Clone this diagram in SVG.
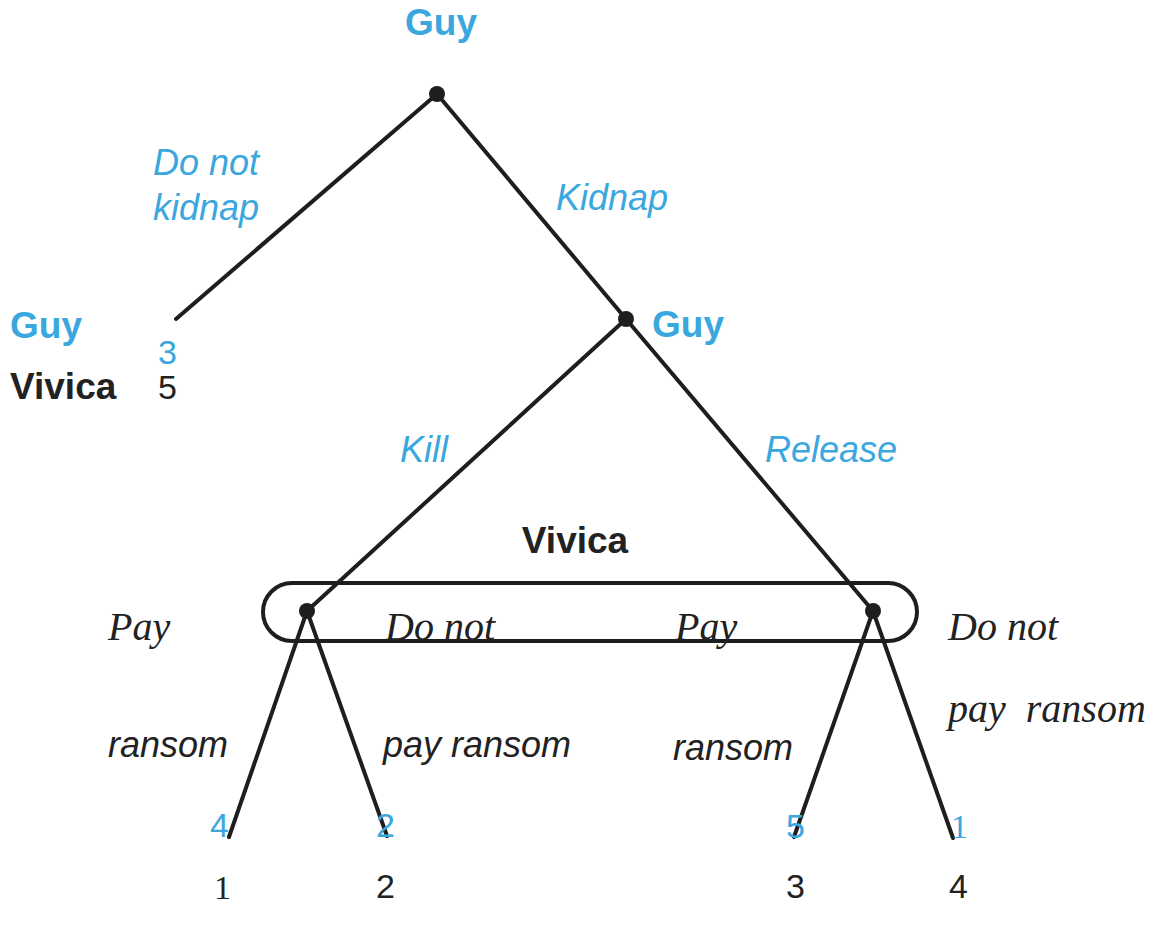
<svg xmlns="http://www.w3.org/2000/svg" width="1153" height="946" viewBox="0 0 1153 946">
<style>
.bg{fill:#ffffff}
.ln{stroke:#1e1e1e;stroke-width:4;fill:none;stroke-linecap:round}
.dot{fill:#1e1e1e}
.pl{font-family:"Liberation Sans",Arial,sans-serif;font-weight:bold;font-size:37px}
.blue{fill:#3aa7de}
.blk{fill:#222222}
.act{font-family:"Liberation Sans",Arial,sans-serif;font-style:italic;font-size:36px}
.ser{font-family:"Liberation Serif","Times New Roman",serif;font-style:italic;font-size:40px;fill:#222222}
.num{font-family:"Liberation Sans",Arial,sans-serif;font-size:34px}
.numS{font-family:"Liberation Serif","Times New Roman",serif;font-size:34px}
</style>
<rect class="bg" x="0" y="0" width="1153" height="946"/>
<g id="connectors">
<line class="ln" x1="437" y1="94" x2="176" y2="319"/>
<line class="ln" x1="437" y1="94" x2="626" y2="319"/>
<line class="ln" x1="626" y1="319" x2="307" y2="611"/>
<line class="ln" x1="626" y1="319" x2="873" y2="611"/>
<line class="ln" x1="307" y1="611" x2="229" y2="837"/>
<line class="ln" x1="307" y1="611" x2="387" y2="836"/>
<line class="ln" x1="873" y1="611" x2="794" y2="837"/>
<line class="ln" x1="873" y1="611" x2="953" y2="838"/>
</g>
<g id="info-set">
<rect class="ln" x="263" y="583" width="654" height="58" rx="29" ry="29"/>
<text class="pl blk" x="575" y="553" text-anchor="middle">Vivica</text>
</g>
<g id="node-root">
<circle class="dot" cx="437" cy="94" r="8"/>
<text class="pl blue" x="441" y="35" text-anchor="middle">Guy</text>
</g>
<g id="node-guy2">
<circle class="dot" cx="626" cy="319" r="8"/>
<text class="pl blue" x="652" y="337">Guy</text>
</g>
<g id="node-vivica-left">
<circle class="dot" cx="307" cy="611" r="8"/>
</g>
<g id="node-vivica-right">
<circle class="dot" cx="873" cy="611" r="8"/>
</g>
<g id="labels">
<text class="act blue" x="153" y="175">Do not</text>
<text class="act blue" x="153" y="220">kidnap</text>
<text class="act blue" x="556" y="210">Kidnap</text>
<text class="act blue" x="400" y="462">Kill</text>
<text class="act blue" x="765" y="462">Release</text>
<text class="ser" x="108" y="640">Pay</text>
<text class="ser" x="385" y="640">Do not</text>
<text class="ser" x="675" y="640">Pay</text>
<text class="ser" x="948" y="640">Do not</text>
<text class="act blk" x="108" y="757">ransom</text>
<text class="act blk" x="383" y="757">pay ransom</text>
<text class="act blk" x="673" y="760">ransom</text>
<text class="ser" x="948" y="722" xml:space="preserve">pay  ransom</text>
</g>
<g id="payoff-dnk">
<text class="pl blue" x="10" y="338">Guy</text>
<text class="num blue" x="158" y="364">3</text>
<text class="pl blk" x="10" y="399">Vivica</text>
<text class="num blk" x="158" y="399">5</text>
</g>
<g id="payoff-1">
<text class="num blue" x="210" y="837">4</text>
<text class="numS blk" x="214" y="899">1</text>
</g>
<g id="payoff-2">
<text class="num blue" x="376" y="837">2</text>
<text class="num blk" x="376" y="898">2</text>
</g>
<g id="payoff-3">
<text class="num blue" x="786" y="838">5</text>
<text class="num blk" x="786" y="898">3</text>
</g>
<g id="payoff-4">
<text class="numS blue" x="951" y="838">1</text>
<text class="num blk" x="949" y="898">4</text>
</g>
</svg>
